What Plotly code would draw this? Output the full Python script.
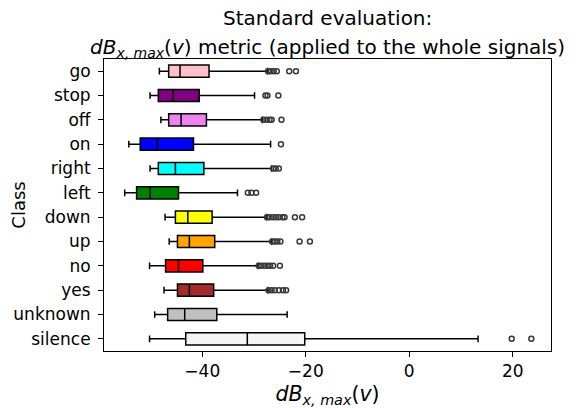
import plotly.graph_objects as go

classes = ["go", "stop", "off", "on", "right", "left", "down", "up", "no", "yes", "unknown", "silence"]
colors = ["#ffc0cb", "#800080", "#ee82ee", "#0000ff", "#00ffff", "#008000",
          "#ffff00", "#ffa500", "#ff0000", "#a52a2a", "#c0c0c0", "#f5f5f5"]
lower_fence = [-48.3, -50.1, -48.0, -54.2, -50.1, -55.0, -47.2, -46.4, -50.2, -47.4, -49.2, -50.2]
q1 = [-46.5, -48.5, -46.5, -52.0, -48.5, -52.7, -45.2, -44.8, -47.1, -44.8, -46.7, -43.2]
median = [-44.3, -45.7, -44.1, -48.7, -45.2, -50.1, -42.8, -42.5, -44.6, -42.5, -43.4, -31.3]
q3 = [-38.7, -40.6, -39.2, -41.7, -39.7, -44.6, -38.1, -37.6, -39.9, -37.8, -37.2, -20.2]
upper_fence = [-27.4, -29.9, -28.4, -26.8, -26.6, -33.2, -27.6, -26.6, -29.2, -27.3, -23.6, 13.3]
outliers = [
    [-27.3, -26.8, -26.2, -25.6, -23.2, -21.9],
    [-27.8, -27.4, -25.3],
    [-28.2, -27.6, -27.0, -26.6, -24.7],
    [-24.8],
    [-26.3, -25.8, -25.2],
    [-31.2, -30.5, -29.6],
    [-27.5, -27.0, -26.4, -25.8, -25.2, -24.5, -24.1, -22.1, -20.7],
    [-26.5, -26.0, -25.5, -24.9, -21.2, -19.2],
    [-29.1, -28.6, -28.0, -27.4, -26.9, -26.3, -25.0],
    [-27.2, -26.6, -26.0, -25.2, -24.4, -23.8],
    [],
    [19.8, 23.6],
]
x_ticks = [-40, -20, 0, 20]
x_tick_labels = ["\u221240", "\u221220", "0", "20"]
title_line1 = "Standard evaluation:"
title_line2 = "<i>dB</i><sub><i>x, max</i></sub>(<i>v</i>) metric (applied to the whole signals)"
x_title = "<i>dB</i><sub><i>x, max</i></sub>(<i>v</i>)"
y_title = "Class"

fig = go.Figure()
for i, c in enumerate(classes):
    fig.add_trace(go.Box(
        y=[c], q1=[q1[i]], median=[median[i]], q3=[q3[i]],
        lowerfence=[lower_fence[i]], upperfence=[upper_fence[i]],
        orientation="h", fillcolor=colors[i],
        line=dict(color="black", width=1.5), whiskerwidth=0.55,
        width=0.5, boxpoints=False, showlegend=False, hoverinfo="skip",
    ))
    if outliers[i]:
        fig.add_trace(go.Scatter(
            x=outliers[i], y=[c] * len(outliers[i]), mode="markers",
            marker=dict(symbol="circle-open", size=5, color="#3a3a3a", line=dict(width=1.5)),
            showlegend=False, hoverinfo="skip",
        ))

# page body has an 8px margin, so the figure is offset by 8px
fig.update_layout(
    width=568, height=400,
    margin=dict(l=96, r=25, t=51, b=57, autoexpand=False),
    paper_bgcolor="white", plot_bgcolor="white",
    font=dict(family="DejaVu Sans", size=17, color="black"),
    xaxis=dict(range=[-59.0, 27.4], tickvals=x_ticks, ticktext=x_tick_labels,
               ticks="outside", ticklen=5, tickcolor="black", automargin=False,
               showline=True, linecolor="black", linewidth=1, mirror=True,
               showgrid=False, zeroline=False,
               title=dict(text=x_title, font=dict(size=20.5), standoff=8),
               tickfont=dict(size=17)),
    yaxis=dict(categoryorder="array", categoryarray=classes,
               range=[len(classes) - 0.5, -0.5],
               ticks="outside", ticklen=5, tickcolor="black", automargin=False,
               ticklabelstandoff=4,
               showline=True, linecolor="black", linewidth=1, mirror=True,
               showgrid=False, zeroline=False,
               title=dict(text=y_title, font=dict(size=18), standoff=4),
               tickfont=dict(size=17)),
    annotations=[
        dict(text=title_line1, x=0.5, xref="paper", y=(343 - 10) / 292, yref="paper",
             xanchor="center", yanchor="middle", showarrow=False, font=dict(size=20)),
        dict(text=title_line2, x=0.5, xref="paper", y=(343 - 40) / 292, yref="paper",
             xanchor="center", yanchor="middle", showarrow=False, font=dict(size=20)),
    ],
)
fig.write_html("out.html")
